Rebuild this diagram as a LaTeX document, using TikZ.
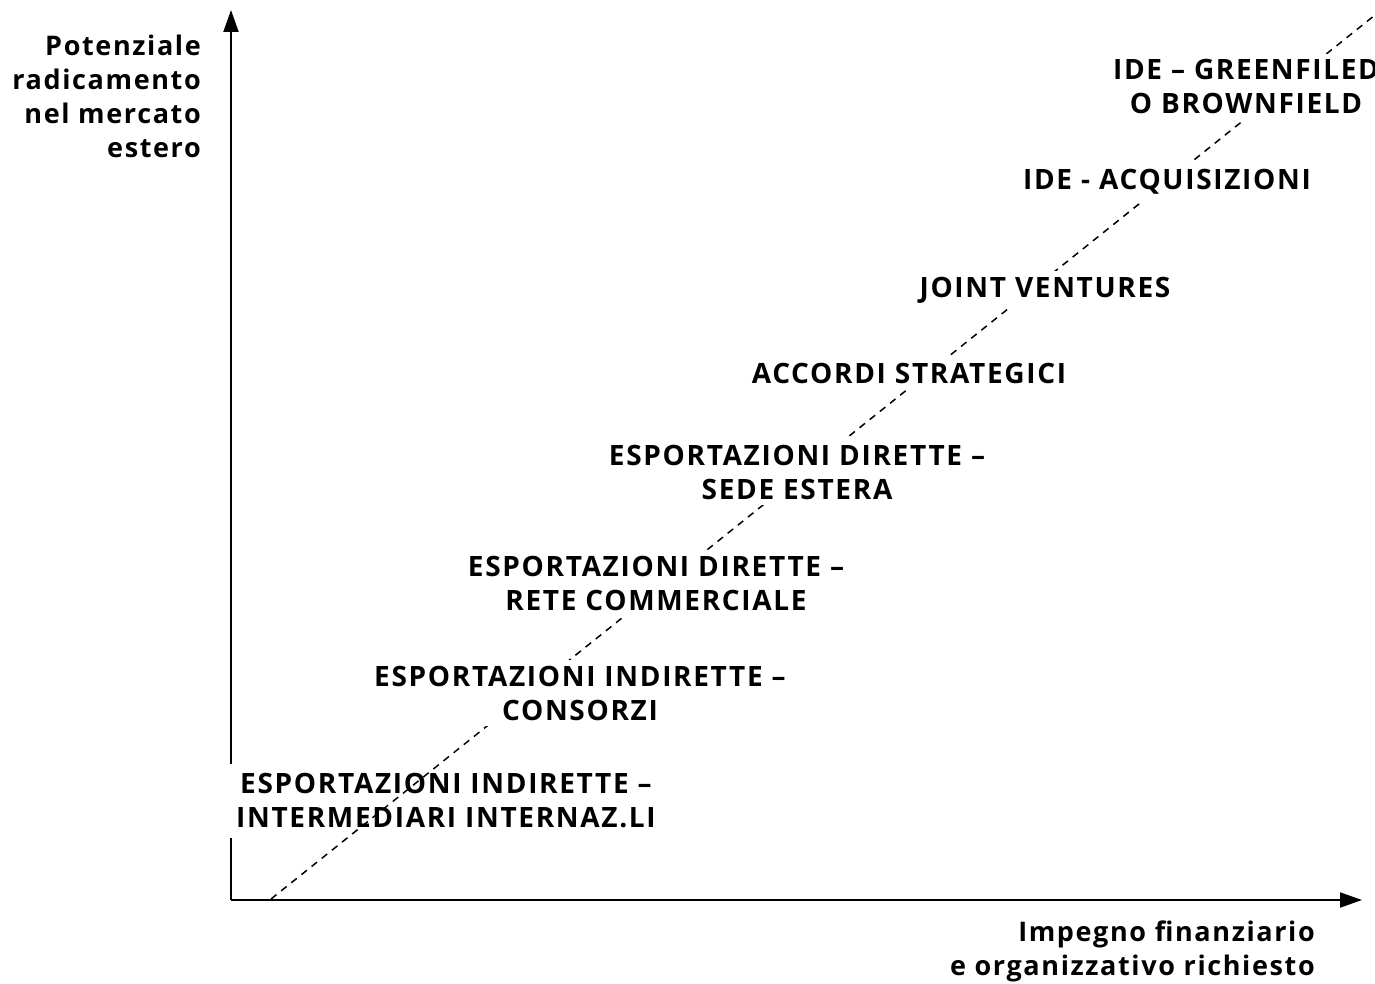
\documentclass[tikz,border=0pt]{standalone}
\usepackage{fontspec}
\setmainfont{Open Sans}[LetterSpace=6]
\usetikzlibrary{arrows.meta}
\tikzset{
  lbl/.style={font=\bfseries\fontsize{28}{34}\selectfont, align=center, fill=white, inner xsep=8pt, inner ysep=6pt},
  axlbl/.style={font=\bfseries\fontsize{27}{34}\selectfont, inner sep=0pt},
  axis/.style={line width=2pt, -{Triangle[length=22pt,width=15pt]}},
  diag/.style={line width=1.5pt, dash pattern=on 7pt off 6pt}
}
\begin{document}
\begin{tikzpicture}[x=1pt,y=-1pt]
\useasboundingbox (0,0) rectangle (1375,984);
\coordinate (o) at (231,900);
\coordinate (ytip) at (231,10);
\coordinate (xtip) at (1362,900);
\coordinate (d0) at (271,899);
\coordinate (d1) at (1385,7);
\draw[axis] (o) -- (ytip);
\draw[axis] (o) -- (xtip);
\node[lbl, inner xsep=12pt, inner ysep=10pt] (n1) at (446,801) {ESPORTAZIONI INDIRETTE –\\INTERMEDIARI INTERNAZ.LI};
\draw[diag] (d0) -- (d1);
\node[lbl] (n2) at (580,693) {ESPORTAZIONI INDIRETTE –\\CONSORZI};
\node[lbl] (n3) at (656,583) {ESPORTAZIONI DIRETTE –\\RETE COMMERCIALE};
\node[lbl] (n4) at (797,472) {ESPORTAZIONI DIRETTE –\\SEDE ESTERA};
\node[lbl] (n5) at (909,373) {ACCORDI STRATEGICI};
\node[lbl] (n6) at (1045,290) {JOINT VENTURES};
\node[lbl] (n7) at (1167,182) {IDE - ACQUISIZIONI};
\node[lbl] (n8) at (1246,87) {IDE – GREENFILED\\O BROWNFIELD};
\node[axlbl, align=right, anchor=east] (ylab) at (201,96) {Potenziale\\radicamento\\nel mercato\\estero};
\node[axlbl, align=right, anchor=east] (xlab) at (1315,951) {Impegno finanziario\\e organizzativo richiesto};
\end{tikzpicture}
\end{document}
